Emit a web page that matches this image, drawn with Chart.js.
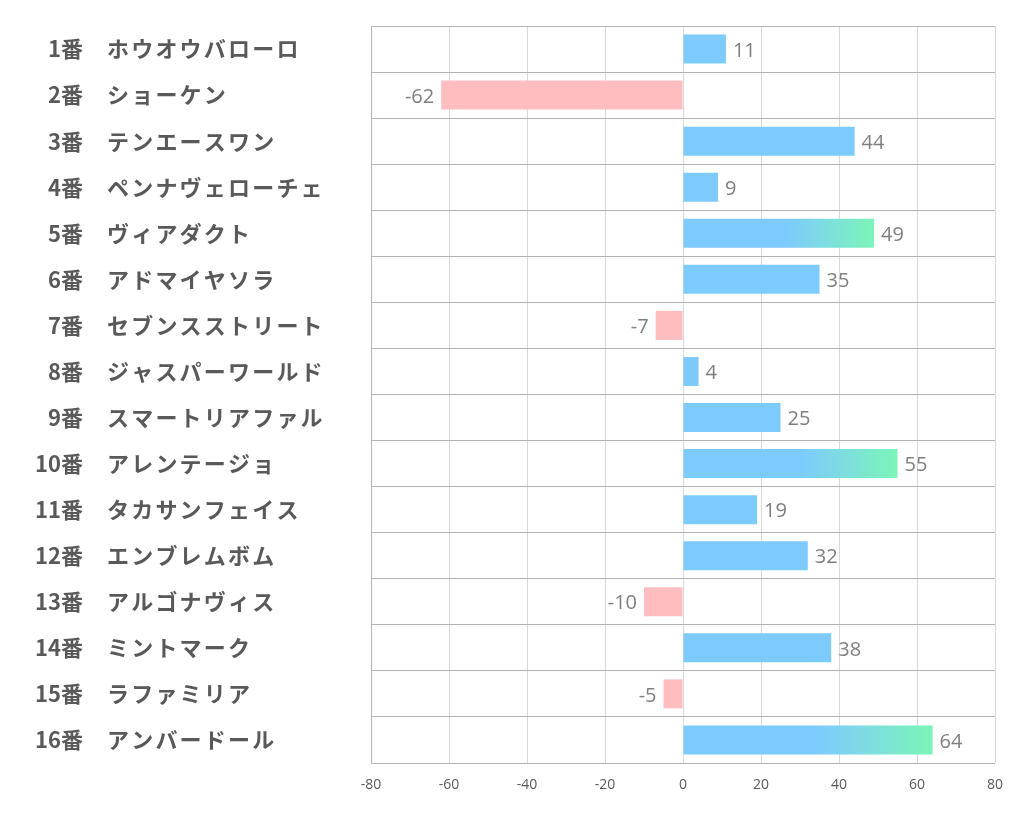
<!DOCTYPE html>
<html>
<head>
<meta charset="utf-8">
<script src="https://cdn.jsdelivr.net/npm/chart.js@4"></script>
<style>
html,body{margin:0;padding:0;background:#fff;}
#wrap{width:1022px;height:834px;}
</style>
</head>
<body>
<div id="wrap"><canvas id="c" width="1022" height="834"></canvas></div>
<script>
const numbers = ["1番","2番","3番","4番","5番","6番","7番","8番","9番","10番","11番","12番","13番","14番","15番","16番"];
const names = ["ホウオウバローロ","ショーケン","テンエースワン","ペンナヴェローチェ","ヴィアダクト","アドマイヤソラ","セブンスストリート","ジャスパーワールド","スマートリアファル","アレンテージョ","タカサンフェイス","エンブレムボム","アルゴナヴィス","ミントマーク","ラファミリア","アンバードール"];
const values = [11,-62,44,9,49,35,-7,4,25,55,19,32,-10,38,-5,64];
const highlighted = [5,10,16];
const xTicks = [-80,-60,-40,-20,0,20,40,60,80];

const BLUE = '#7dcbfd';
const GREEN = '#7cf5b9';
const PINK = '#ffbdc0';

function barColor(ctx){
  const i = ctx.dataIndex;
  const v = values[i];
  if (v < 0) return PINK;
  if (!highlighted.includes(i+1)) return BLUE;
  const chart = ctx.chart;
  const xs = chart.scales.x;
  if (!xs || !chart.chartArea) return BLUE;
  const x0 = xs.getPixelForValue(0);
  const x1 = xs.getPixelForValue(v);
  const g = chart.ctx.createLinearGradient(x0,0,x1,0);
  g.addColorStop(0, BLUE);
  g.addColorStop(0.55, BLUE);
  g.addColorStop(1, GREEN);
  return g;
}

const labelPlugin = {
  id:'labels',
  afterDatasetsDraw(chart){
    const c = chart.ctx;
    const meta = chart.getDatasetMeta(0);
    c.save();
    c.font = '20px "Open Sans", "Noto Sans", sans-serif';
    c.fillStyle = '#7f7f7f';
    c.textBaseline = 'middle';
    meta.data.forEach((el,i)=>{
      const v = values[i];
      if (v >= 0){ c.textAlign='left'; c.fillText(String(v), el.x+7, el.y+2); }
      else { c.textAlign='right'; c.fillText(String(v), el.x-7, el.y+2); }
    });
    // y labels
    const ys = chart.scales.y;
    c.fillStyle = '#595959';
    numbers.forEach((n,i)=>{
      const y = ys.getPixelForValue(i);
      c.font = 'bold 22px "Noto Sans CJK JP", sans-serif';
      c.textAlign='right';
      c.letterSpacing = '0px';
      c.fillText(n, 83, y);
      c.textAlign='left';
      c.font = 'bold 22px "Noto Sans CJK JP", sans-serif';
      c.letterSpacing = '2.2px';
      c.fillText(names[i], 107, y);
    });
    c.restore();
  }
};

new Chart(document.getElementById('c'), {
  type:'bar',
  data:{
    labels: numbers.map((n,i)=>n+'　'+names[i]),
    datasets:[{
      data: values,
      backgroundColor: barColor,
      borderWidth:0,
      barPercentage:0.63,
      categoryPercentage:1
    }]
  },
  options:{
    indexAxis:'y',
    responsive:false,
    animation:false,
    devicePixelRatio:1,
    layout:{padding:{top:26,right:27,left:0,bottom:0}},
    plugins:{legend:{display:false},tooltip:{enabled:false}},
    scales:{
      x:{
        min:-80,max:80,
        afterBuildTicks(s){ s.ticks = xTicks.map(v=>({value:v})); },
        afterFit(s){ s.height = 71; },
        grid:{color:'#d9d9d9',lineWidth:1,drawTicks:false},
        border:{display:false},
        ticks:{padding:14,color:'#595959',font:{family:'"Open Sans", sans-serif',size:14}}
      },
      y:{
        afterFit(s){ s.width = 371; },
        grid:{color:'#b3b3b3',lineWidth:1,offset:true,drawTicks:false},
        border:{display:true,color:'#b3b3b3'},
        ticks:{display:false}
      }
    }
  },
  plugins:[labelPlugin]
});
</script>
</body>
</html>
